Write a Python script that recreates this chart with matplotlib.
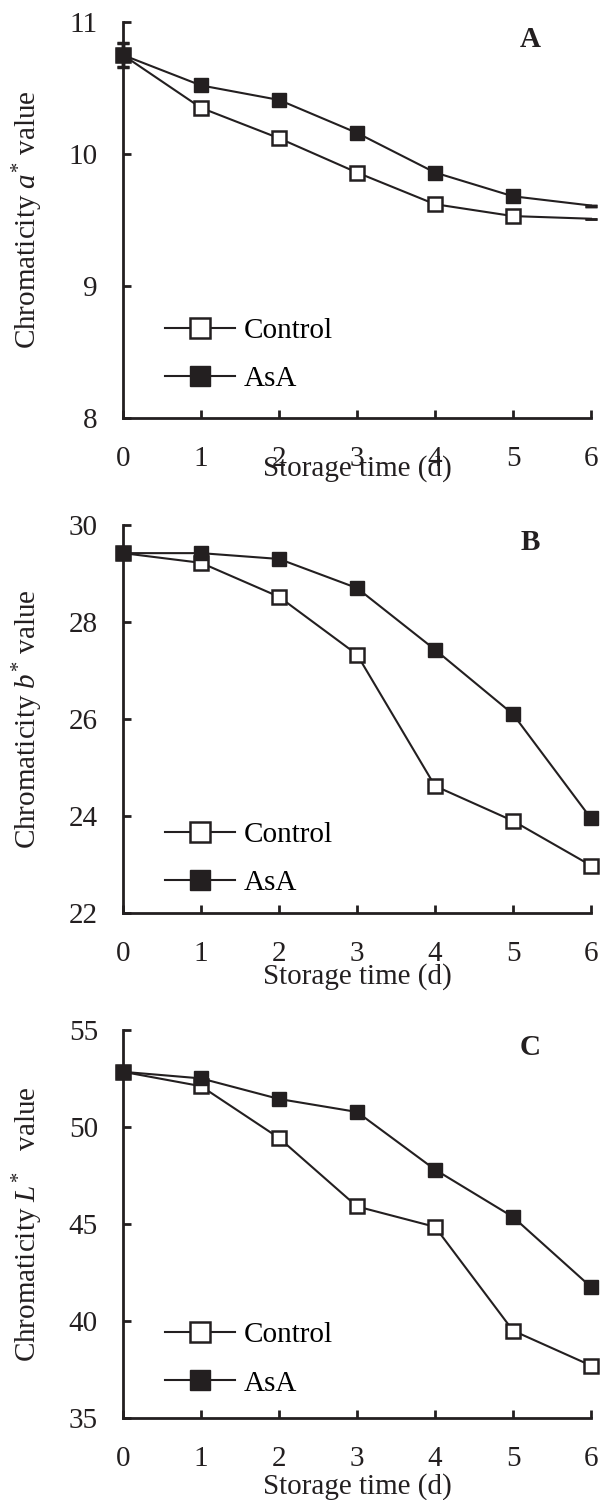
import matplotlib
matplotlib.use('Agg')
import matplotlib.pyplot as plt

plt.rcParams['font.family'] = ['Liberation Serif', 'DejaVu Serif']
plt.rcParams['mathtext.fontset'] = 'custom'
plt.rcParams['mathtext.rm'] = 'Liberation Serif'
plt.rcParams['mathtext.it'] = 'Liberation Serif:italic'

days = [0, 1, 2, 3, 4, 5, 6]

# panel A: a* value
a_control = [10.75, 10.35, 10.12, 9.86, 9.62, 9.53, 9.51]
a_asa = [10.75, 10.52, 10.41, 10.16, 9.86, 9.68, 9.61]
a_err = [0.09, 0, 0, 0, 0, 0, 0]

# panel B: b* value
b_control = [29.42, 29.22, 28.52, 27.33, 24.62, 23.9, 22.98]
b_asa = [29.42, 29.42, 29.3, 28.7, 27.43, 26.1, 23.95]

# panel C: L* value
c_control = [52.84, 52.1, 49.43, 45.9, 44.85, 39.5, 37.7]
c_asa = [52.84, 52.5, 51.44, 50.77, 47.8, 45.36, 41.75]

FS = 21
INK = '#231f20'

fig = plt.figure(figsize=(6, 15), dpi=100)

panels = [
    dict(rect=[0.205, 0.7213, 0.78, 0.264], ctl=a_control, asa=a_asa,
         ylim=(8, 11), yticks=[8, 9, 10, 11], letter='A',
         ylabel=r'Chromaticity $\mathit{a}^{*}$ value', xlab_y=-0.093,
         leg_y=0.065),
    dict(rect=[0.205, 0.3913, 0.78, 0.2587], ctl=b_control, asa=b_asa,
         ylim=(22, 30), yticks=[22, 24, 26, 28, 30], letter='B',
         ylabel=r'Chromaticity $\mathit{b}^{*}$ value', xlab_y=-0.129,
         leg_y=0.043),
    dict(rect=[0.205, 0.0547, 0.78, 0.2587], ctl=c_control, asa=c_asa,
         ylim=(35, 55), yticks=[35, 40, 45, 50, 55], letter='C',
         ylabel=r'Chromaticity $\mathit{L}^{*}$   value', xlab_y=-0.142,
         leg_y=0.055),
]

for i, p in enumerate(panels):
    ax = fig.add_axes(p['rect'])
    if i == 0:
        ax.errorbar(days, p['ctl'], yerr=a_err, color=INK, lw=1.5,
                    capsize=4, capthick=2.5, elinewidth=2.5,
                    marker='s', ms=10, mfc='white', mec=INK, mew=1.8,
                    markevery=[0, 1, 2, 3, 4, 5], clip_on=False, zorder=3)
        ax.errorbar(days, p['asa'], yerr=a_err, color=INK, lw=1.5,
                    capsize=4, capthick=2.5, elinewidth=2.5,
                    marker='s', ms=10, mfc=INK, mec=INK,
                    markevery=[0, 1, 2, 3, 4, 5], clip_on=False, zorder=4)
        h1, = ax.plot([], [], color=INK, lw=1.5, marker='s', ms=10,
                      mfc='white', mec=INK, mew=1.8)
        h2, = ax.plot([], [], color=INK, lw=1.5, marker='s', ms=10,
                      mfc=INK, mec=INK)
    else:
        h1, = ax.plot(days, p['ctl'], color=INK, lw=1.5, marker='s',
                      ms=10, mfc='white', mec=INK, mew=1.8,
                      clip_on=False, zorder=3)
        h2, = ax.plot(days, p['asa'], color=INK, lw=1.5, marker='s',
                      ms=10, mfc=INK, mec=INK, clip_on=False, zorder=4)

    ax.set_xlim(0, 6)
    ax.set_ylim(*p['ylim'])
    ax.set_xticks(days)
    ax.set_yticks(p['yticks'])
    for s in ['top', 'right']:
        ax.spines[s].set_visible(False)
    for s in ['left', 'bottom']:
        ax.spines[s].set_linewidth(2)
        ax.spines[s].set_color(INK)
    ax.tick_params(direction='in', length=6, width=2, color=INK,
                   labelsize=FS, labelcolor=INK)
    ax.tick_params(axis='x', pad=20)
    ax.tick_params(axis='y', pad=18)

    ax.set_xlabel('Storage time (d)', fontsize=FS, color=INK)
    ax.xaxis.set_label_coords(0.5, p['xlab_y'])
    ax.set_ylabel(p['ylabel'], fontsize=FS, color=INK)
    ax.yaxis.set_label_coords(-0.167, 0.5)

    ax.text(0.87, 0.955, p['letter'], transform=ax.transAxes, fontsize=FS,
            fontweight='bold', ha='center', va='center', color=INK)

    ax.legend([h1, h2], ['Control', 'AsA'], loc='lower left',
              bbox_to_anchor=(0.09, p['leg_y']), frameon=False, fontsize=FS,
              markerscale=1.4, handlelength=2.4, handletextpad=0.3,
              labelspacing=0.75, borderpad=0, borderaxespad=0)

fig.savefig('out.png', dpi=100)
